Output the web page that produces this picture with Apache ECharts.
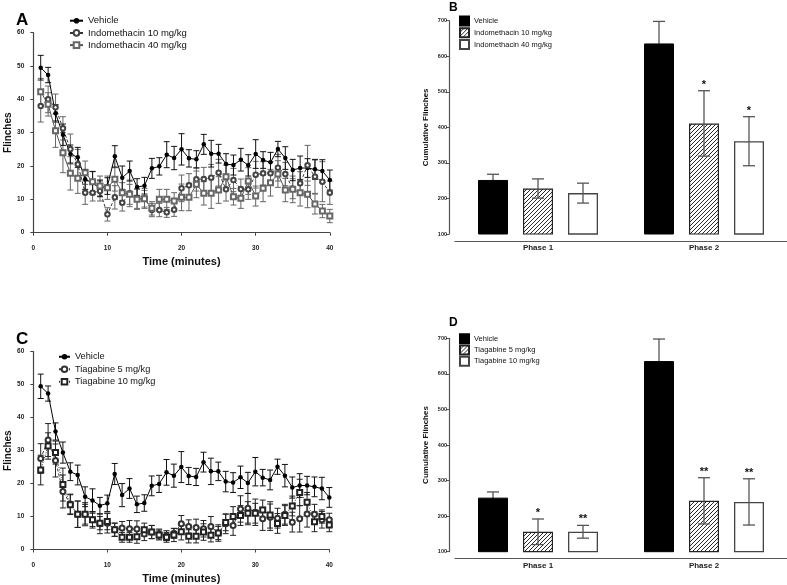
<!DOCTYPE html>
<html><head><meta charset="utf-8">
<script src="https://cdn.jsdelivr.net/npm/echarts@6/dist/echarts.min.js"></script>
<style>html,body{margin:0;padding:0;background:#fff}#c{width:787px;height:585px}</style>
</head><body><div id="c"></div>
<script>
// ---------------- DATA ----------------
const minutes = [1,2,3,4,5,6,7,8,9,10,11,12,13,14,15,16,17,18,19,20,21,22,23,24,25,26,27,28,29,30,31,32,33,34,35,36,37,38,39,40];
const vehicle    = [49.5,47.3,35.8,29.4,23.6,22.6,16.0,14.9,13.3,14.0,22.9,16.5,18.5,13.7,14.1,19.3,19.9,23.4,22.4,25.0,22.3,22.0,26.5,23.7,23.7,20.6,20.3,21.9,20.2,23.6,21.8,21.1,25.1,22.4,18.8,19.4,19.4,19.0,18.5,15.8];
const vehicleErr = [3.7,2.3,2.6,3.2,2.7,3.0,3.0,3.5,2.5,2.5,3.2,3.5,3.0,2.5,2.5,3.0,2.6,3.9,3.5,4.7,2.6,2.6,3.0,4.0,2.8,3.1,3.0,3.4,3.2,4.3,2.5,3.0,2.3,3.4,3.2,3.6,2.8,3.0,3.4,3.0];
const indo10     = [38.0,40.0,37.6,31.3,25.1,20.5,12.0,12.0,12.5,5.5,10.6,9.0,11.8,10.3,10.3,6.8,6.8,6.1,6.9,13.3,14.2,16.0,16.1,16.5,18.0,13.0,15.8,13.1,13.0,17.4,17.8,17.8,19.5,17.6,13.2,14.8,20.2,16.8,15.3,12.0];
const indo10Err  = [4.8,4.0,4.0,3.5,4.5,4.5,3.5,2.5,3.0,2.0,3.5,2.5,4.0,3.0,3.0,2.0,2.0,1.5,2.0,4.0,3.5,3.5,3.5,4.0,4.0,3.5,3.5,3.0,3.0,4.0,3.5,3.5,4.0,3.5,3.0,3.5,6.0,5.0,6.0,3.5];
const indo40     = [42.3,38.5,30.6,24.0,17.8,16.3,18.0,15.3,14.0,13.5,16.0,12.0,11.5,10.0,10.2,7.3,10.0,10.0,9.5,10.6,10.6,14.5,11.8,11.8,12.8,16.8,10.8,10.3,15.5,11.0,13.3,15.0,17.6,12.8,13.0,12.0,11.5,8.6,6.5,5.0];
const indo40Err  = [4.0,3.5,5.0,6.0,5.0,4.5,3.5,3.0,3.0,3.5,3.5,3.0,3.0,3.0,2.5,2.0,3.0,3.0,2.5,4.0,4.0,4.0,3.5,4.5,4.0,3.5,2.5,3.0,4.0,3.0,4.0,4.0,4.0,3.5,4.0,4.0,4.0,3.0,2.0,2.0];
const tiag5      = [27.6,33.2,27.0,17.6,13.8,10.7,10.7,9.0,7.8,8.0,6.0,6.5,6.3,6.2,4.7,5.3,4.7,4.2,4.9,7.8,7.0,6.7,6.3,7.0,5.0,7.8,7.3,12.3,12.5,11.3,9.3,9.8,9.5,10.7,8.3,9.3,10.8,10.7,9.0,9.0];
const tiag5Err   = [4.5,5.0,5.0,5.0,3.0,4.0,3.5,2.5,3.0,3.0,2.0,2.0,2.5,2.5,2.0,2.0,1.5,1.5,1.5,2.5,2.0,2.5,2.5,3.0,2.5,3.0,3.0,4.0,4.5,4.0,3.5,4.0,3.0,3.0,3.0,4.0,4.0,3.0,2.5,2.0];
const tiag10     = [24.1,31.4,29.4,19.7,13.6,10.7,10.7,9.0,8.0,8.5,6.0,3.7,3.7,3.9,6.0,5.3,4.4,3.7,4.4,5.4,4.0,4.0,5.3,4.3,5.0,8.2,10.0,10.3,11.0,11.0,12.0,10.5,7.9,10.3,13.2,17.3,14.3,8.4,10.0,7.4];
const tiag10Err  = [4.5,4.0,3.5,5.0,3.0,4.0,3.0,2.0,2.0,2.5,2.0,1.5,1.5,2.0,2.0,2.0,1.5,1.5,2.0,2.5,2.0,2.0,2.5,2.0,2.0,2.5,3.0,3.0,3.5,3.0,3.0,4.0,3.0,3.0,3.0,4.0,3.0,3.0,2.0,2.0];

const phases = ['Phase 1','Phase 2'];
const cumVehicle      = [252, 636];
const cumVehicleErr   = [16, 62];
const cumIndo10       = [228, 411];
const cumIndo10Err    = [27, 92];
const cumIndo40       = [215, 361];
const cumIndo40Err    = [28, 69];
const cumTiag5        = [156, 243];
const cumTiag5Err     = [36, 65];
const cumTiag10       = [156, 240];
const cumTiag10Err    = [18, 65];
const starsIndo10 = ['', '*'];
const starsIndo40 = ['', '*'];
const starsTiag5  = ['*', '**'];
const starsTiag10 = ['**', '**'];

// ---------------- HELPERS ----------------
const FF = '"Liberation Sans", Arial, sans-serif';

function hatchPattern(){
  const c = document.createElement('canvas');
  c.width = 4; c.height = 4;
  const ctx = c.getContext('2d');
  ctx.fillStyle = '#fff'; ctx.fillRect(0,0,4,4);
  ctx.strokeStyle = '#111'; ctx.lineWidth = 0.9;
  ctx.beginPath();
  ctx.moveTo(0,4); ctx.lineTo(4,0);
  ctx.moveTo(-1,1); ctx.lineTo(1,-1);
  ctx.moveTo(3,5); ctx.lineTo(5,3);
  ctx.stroke();
  return c;
}
const HATCH = {image: hatchPattern(), repeat: 'repeat'};

function errData(xs, vals, errs){
  return xs.map((x,i)=>[x, vals[i]-errs[i], vals[i]+errs[i]]);
}
function barErrData(vals, errs, stars){
  return vals.map((v,i)=>[i, v-errs[i], v+errs[i], stars ? stars[i] : '']);
}
function lineErrRender(color, cap){
  return function(params, api){
    const x = api.value(0);
    const p1 = api.coord([x, api.value(2)]);
    const p2 = api.coord([x, api.value(1)]);
    const st = {stroke: color, lineWidth: 1};
    return {type:'group', children:[
      {type:'line', shape:{x1:p1[0],y1:p1[1],x2:p2[0],y2:p2[1]}, style:st},
      {type:'line', shape:{x1:p1[0]-cap,y1:p1[1],x2:p1[0]+cap,y2:p1[1]}, style:st},
      {type:'line', shape:{x1:p2[0]-cap,y1:p2[1],x2:p2[0]+cap,y2:p2[1]}, style:st}
    ]};
  };
}
function barErrRender(color, offset){
  return function(params, api){
    const x = api.value(0);
    const p1 = api.coord([x, api.value(2)]);
    const p2 = api.coord([x, api.value(1)]);
    const cx = p1[0] + offset;
    const st = {stroke: color, lineWidth: 1.3};
    const cap = 6;
    const ch = [
      {type:'line', shape:{x1:cx,y1:p1[1],x2:cx,y2:p2[1]}, style:st},
      {type:'line', shape:{x1:cx-cap,y1:p1[1],x2:cx+cap,y2:p1[1]}, style:st},
      {type:'line', shape:{x1:cx-cap,y1:p2[1],x2:cx+cap,y2:p2[1]}, style:st}
    ];
    const s = api.value(3);
    if (s) ch.push({type:'text', x: cx, y: p1[1]-6, style:{text: s, fill:'#111', font:'bold 11px '+FF, align:'center', verticalAlign:'middle'}});
    return {type:'group', children: ch};
  };
}

// ---------------- AXES ----------------
function lineX(g){
  return {type:'value', gridIndex:g, min:0, max:40, interval:10, offset:9,
    axisLine:{lineStyle:{color:'#444', width:1.2}},
    axisTick:{length:3, lineStyle:{color:'#444'}},
    axisLabel:{fontSize:6.5, fontWeight:'bold', color:'#222', fontFamily:FF, margin:3},
    splitLine:{show:false},
    name:'Time (minutes)', nameLocation:'middle', nameGap:14.5,
    nameTextStyle:{fontSize:11, fontWeight:'bold', color:'#111', fontFamily:FF}};
}
function lineY(g){
  return {type:'value', gridIndex:g, min:0, max:60, interval:10, offset:7,
    axisLine:{show:true, lineStyle:{color:'#444', width:1.2}},
    axisTick:{show:true, length:3, lineStyle:{color:'#444'}},
    axisLabel:{fontSize:6.5, fontWeight:'bold', color:'#222', fontFamily:FF, margin:2},
    splitLine:{show:false},
    name:'Flinches', nameLocation:'middle', nameGap:13,
    nameTextStyle:{fontSize:10, fontWeight:'bold', color:'#111', fontFamily:FF}};
}
function barX(g){
  return {type:'category', gridIndex:g, data:phases, offset:7,
    axisLine:{lineStyle:{color:'#555', width:1.2}},
    axisTick:{alignWithLabel:true, length:2, lineStyle:{color:'#555'}},
    axisLabel:{fontSize:8, fontWeight:'bold', color:'#222', fontFamily:FF, margin:3}};
}
function barY(g){
  return {type:'value', gridIndex:g, min:100, max:700, interval:100, offset:6,
    axisLine:{show:true, lineStyle:{color:'#555', width:1.2}},
    axisTick:{show:true, length:3, lineStyle:{color:'#555'}},
    axisLabel:{fontSize:5.5, fontWeight:'bold', color:'#222', fontFamily:FF, margin:2},
    splitLine:{show:false},
    name:'Cumulative Flinches', nameLocation:'middle', nameGap:19,
    nameTextStyle:{fontSize:8, fontWeight:'bold', color:'#111', fontFamily:FF}};
}

// ---------------- SERIES ----------------
function lineSeries(name, xi, vals, opt){
  return Object.assign({type:'line', name:name, xAxisIndex:xi, yAxisIndex:xi, z:5,
    data: minutes.map((m,i)=>[m, vals[i]]), animation:false}, opt);
}
function lineErr(xi, vals, errs, color, z){
  return {type:'custom', xAxisIndex:xi, yAxisIndex:xi, z:z||4, animation:false,
    renderItem: lineErrRender(color, 3), encode:{x:0, y:[1,2]},
    data: errData(minutes, vals, errs)};
}
function barSeries(name, xi, vals, style){
  return {type:'bar', name:name, xAxisIndex:xi, yAxisIndex:xi, barWidth:30, barGap:'50%', z:3,
    animation:false, data: vals, itemStyle: style};
}
function barErr(xi, vals, errs, stars, color, offset, z){
  return {type:'custom', xAxisIndex:xi, yAxisIndex:xi, z:z, animation:false,
    renderItem: barErrRender(color, offset), encode:{x:0, y:[1,2]},
    data: barErrData(vals, errs, stars)};
}

const sVeh  = {symbol:'circle', symbolSize:4.5, itemStyle:{color:'#000'}, lineStyle:{color:'#000', width:1}};
const sInd10= {symbol:'emptyCircle', symbolSize:4.5, itemStyle:{color:'#444', borderWidth:1}, lineStyle:{color:'#333', width:1, type:[3,2]}};
const sInd40= {symbol:'emptyRect', symbolSize:5, itemStyle:{color:'#666', borderWidth:1}, lineStyle:{color:'#555', width:1}};
const sT5   = {symbol:'emptyCircle', symbolSize:5, itemStyle:{color:'#333', borderWidth:1.2}, lineStyle:{color:'#333', width:1, type:[3,2]}};
const sT10  = {symbol:'emptyRect', symbolSize:5, itemStyle:{color:'#222', borderWidth:1.2}, lineStyle:{color:'#333', width:1, type:[1,1.5]}};

const stBlack = {color:'#000', borderColor:'#000', borderWidth:1};
const stHatch = {color:HATCH, borderColor:'#222', borderWidth:1.2};
const stWhite = {color:'#fff', borderColor:'#444', borderWidth:1.3};

const series = [
  // A
  lineErr(0, vehicle, vehicleErr, '#111', 4),
  lineErr(0, indo10, indo10Err, '#666', 3),
  lineErr(0, indo40, indo40Err, '#666', 3),
  lineSeries('A|Vehicle', 0, vehicle, sVeh),
  lineSeries('A|Indomethacin 10 mg/kg', 0, indo10, sInd10),
  lineSeries('A|Indomethacin 40 mg/kg', 0, indo40, sInd40),
  // B
  barSeries('B|Vehicle', 1, cumVehicle, stBlack),
  barSeries('B|Indomethacin 10 mg/kg', 1, cumIndo10, stHatch),
  barSeries('B|Indomethacin 40 mg/kg', 1, cumIndo40, stWhite),
  barErr(1, cumVehicle, cumVehicleErr, null, '#555', -45, 1),
  barErr(1, cumIndo10, cumIndo10Err, starsIndo10, '#555', 0, 6),
  barErr(1, cumIndo40, cumIndo40Err, starsIndo40, '#555', 45, 6),
  // C
  lineErr(2, vehicle, vehicleErr, '#111', 4),
  lineErr(2, tiag5, tiag5Err, '#222', 3),
  lineErr(2, tiag10, tiag10Err, '#222', 3),
  lineSeries('C|Vehicle', 2, vehicle, sVeh),
  lineSeries('C|Tiagabine 5 mg/kg', 2, tiag5, sT5),
  lineSeries('C|Tiagabine 10 mg/kg', 2, tiag10, sT10),
  // D
  barSeries('D|Vehicle', 3, cumVehicle, stBlack),
  barSeries('D|Tiagabine 5 mg/kg', 3, cumTiag5, stHatch),
  barSeries('D|Tiagabine 10 mg/kg', 3, cumTiag10, stWhite),
  barErr(3, cumVehicle, cumVehicleErr, null, '#555', -45, 1),
  barErr(3, cumTiag5, cumTiag5Err, starsTiag5, '#555', 0, 6),
  barErr(3, cumTiag10, cumTiag10Err, starsTiag10, '#555', 45, 6)
];

const fmt = n => n.split('|')[1];
function legend(names, left, top, fs, lh, iw, ih, icon){
  return {orient:'vertical', left:left, top:top, itemGap:0, itemWidth:iw, itemHeight:ih, padding:0,
    formatter: fmt, selectedMode:false, icon: icon,
    data:names,
    textStyle:{fontSize:fs, lineHeight:lh, color:'#111', fontFamily:FF}};
}

const option = {
  backgroundColor:'#fff',
  animation:false,
  title:[
    {text:'A', left:16, top:12, textStyle:{fontSize:17, fontWeight:'bold', color:'#000', fontFamily:FF}, padding:0},
    {text:'B', left:449, top:2, textStyle:{fontSize:12, fontWeight:'bold', color:'#000', fontFamily:FF}, padding:0},
    {text:'C', left:16, top:331, textStyle:{fontSize:17, fontWeight:'bold', color:'#000', fontFamily:FF}, padding:0},
    {text:'D', left:449, top:317, textStyle:{fontSize:12, fontWeight:'bold', color:'#000', fontFamily:FF}, padding:0}
  ],
  grid:[
    {left:33.3, top:32.7, width:296.5, height:200},
    {left:455, top:20.7, width:332, height:213.3},
    {left:33.3, top:351.7, width:296, height:199.3},
    {left:455, top:338.3, width:332, height:213.4}
  ],
  xAxis:[lineX(0), barX(1), lineX(2), barX(3)],
  yAxis:[lineY(0), barY(1), lineY(2), barY(3)],
  legend:[
    legend(['A|Vehicle','A|Indomethacin 10 mg/kg','A|Indomethacin 40 mg/kg'], 69, 14.6, 9.5, 12.2, 13, 7),
    legend(['B|Vehicle','B|Indomethacin 10 mg/kg','B|Indomethacin 40 mg/kg'], 459, 15.2, 7.5, 11.7, 9, 9, 'rect'),
    legend(['C|Vehicle','C|Tiagabine 5 mg/kg','C|Tiagabine 10 mg/kg'], 58, 350.5, 9.2, 12.5, 11, 7),
    legend(['D|Vehicle','D|Tiagabine 5 mg/kg','D|Tiagabine 10 mg/kg'], 459, 333.2, 7.5, 11.2, 9, 9, 'rect')
  ],
  series: series
};

const chart = echarts.init(document.getElementById('c'), null, {renderer:'canvas'});
chart.setOption(option);
</script>
</body></html>
